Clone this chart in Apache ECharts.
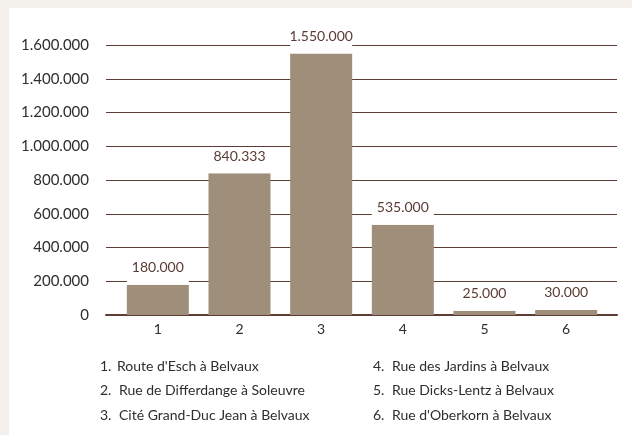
<!DOCTYPE html>
<html>
<head>
<meta charset="utf-8">
<script src="https://cdn.jsdelivr.net/npm/echarts@6/dist/echarts.min.js"></script>
<style>
html,body{margin:0;padding:0;background:#fff;}
#c{width:632px;height:435px;}
</style>
</head>
<body>
<div id="c"></div>
<script>
const categories = ['1', '2', '3', '4', '5', '6'];
const values = [180000, 840333, 1550000, 535000, 25000, 30000];
const yMin = 0, yMax = 1600000, yStep = 200000;
const legendNumbers = ['1.', '2.', '3.', '4.', '5.', '6.'];
const legendNames = ["Route d'Esch à Belvaux", 'Rue de Differdange à Soleuvre', 'Cité Grand-Duc Jean à Belvaux',
                     'Rue des Jardins à Belvaux', 'Rue Dicks-Lentz à Belvaux', "Rue d'Oberkorn à Belvaux"];

const fmt = v => String(Math.round(v)).replace(/\B(?=(\d{3})+(?!\d))/g, '.');
const FONT = 'Lato, "Open Sans", sans-serif';
const LINE = '#5c3d36';

const legendGraphics = [];
legendNames.forEach((name, i) => {
  const col = Math.floor(i / 3), row = i % 3;
  const x = col === 0 ? 100 : 373;
  const y = 368 + row * 24.5;
  legendGraphics.push({type: 'text', left: x, top: y - 9,
    style: {text: legendNumbers[i], font: '14px ' + FONT, fill: '#2e2e2e'}});
  legendGraphics.push({type: 'text', left: x + (col === 0 ? 17 + (row ? 2 : 0) : 19), top: y - 9,
    style: {text: name, font: '14px ' + FONT, fill: '#2e2e2e'}});
});

const chart = echarts.init(document.getElementById('c'), null, {renderer: 'canvas'});
chart.setOption({
  backgroundColor: '#fff',
  animation: false,
  textStyle: {fontFamily: FONT},
  graphic: [
    {type: 'rect', z: -10, shape: {x: 0, y: 0, width: 632, height: 8}, style: {fill: '#f4f1ec'}},
    {type: 'rect', z: -10, shape: {x: 0, y: 0, width: 9, height: 435}, style: {fill: '#f4f1ec'}}
  ].concat(legendGraphics),
  grid: [
    {left: 106, right: 15, top: 45, bottom: 120},
    {left: 117, right: 25, top: 45, bottom: 120}
  ],
  xAxis: [
    {gridIndex: 0, type: 'category', data: categories, axisLabel: {show: false}, axisTick: {show: false},
     axisLine: {show: true, lineStyle: {color: LINE, width: 2}}},
    {gridIndex: 1, type: 'category', data: categories, axisTick: {show: false}, axisLine: {show: false},
     axisLabel: {fontSize: 14, color: '#2e2e2e', margin: 7, fontFamily: FONT}}
  ],
  yAxis: [
    {gridIndex: 0, type: 'value', min: yMin, max: yMax, interval: yStep,
     axisLine: {show: false}, axisTick: {show: false},
     axisLabel: {fontSize: 15, color: '#2e2e2e', margin: 17, formatter: fmt, fontFamily: FONT},
     splitLine: {show: true, lineStyle: {color: LINE, width: 1}}},
    {gridIndex: 1, type: 'value', min: yMin, max: yMax, interval: yStep, show: false, splitLine: {show: false}}
  ],
  series: [{
    type: 'bar', xAxisIndex: 1, yAxisIndex: 1, data: values, barWidth: 62,
    itemStyle: {color: '#9e8e7a'},
    label: {show: true, position: 'top', distance: 0, formatter: p => fmt(p.value),
      width: 62, align: 'center', lineHeight: 18, padding: [0, 0, 8, 0],
      backgroundColor: '#fff', fontSize: 14, color: '#5a3a33', fontFamily: FONT}
  }]
});
</script>
</body>
</html>
